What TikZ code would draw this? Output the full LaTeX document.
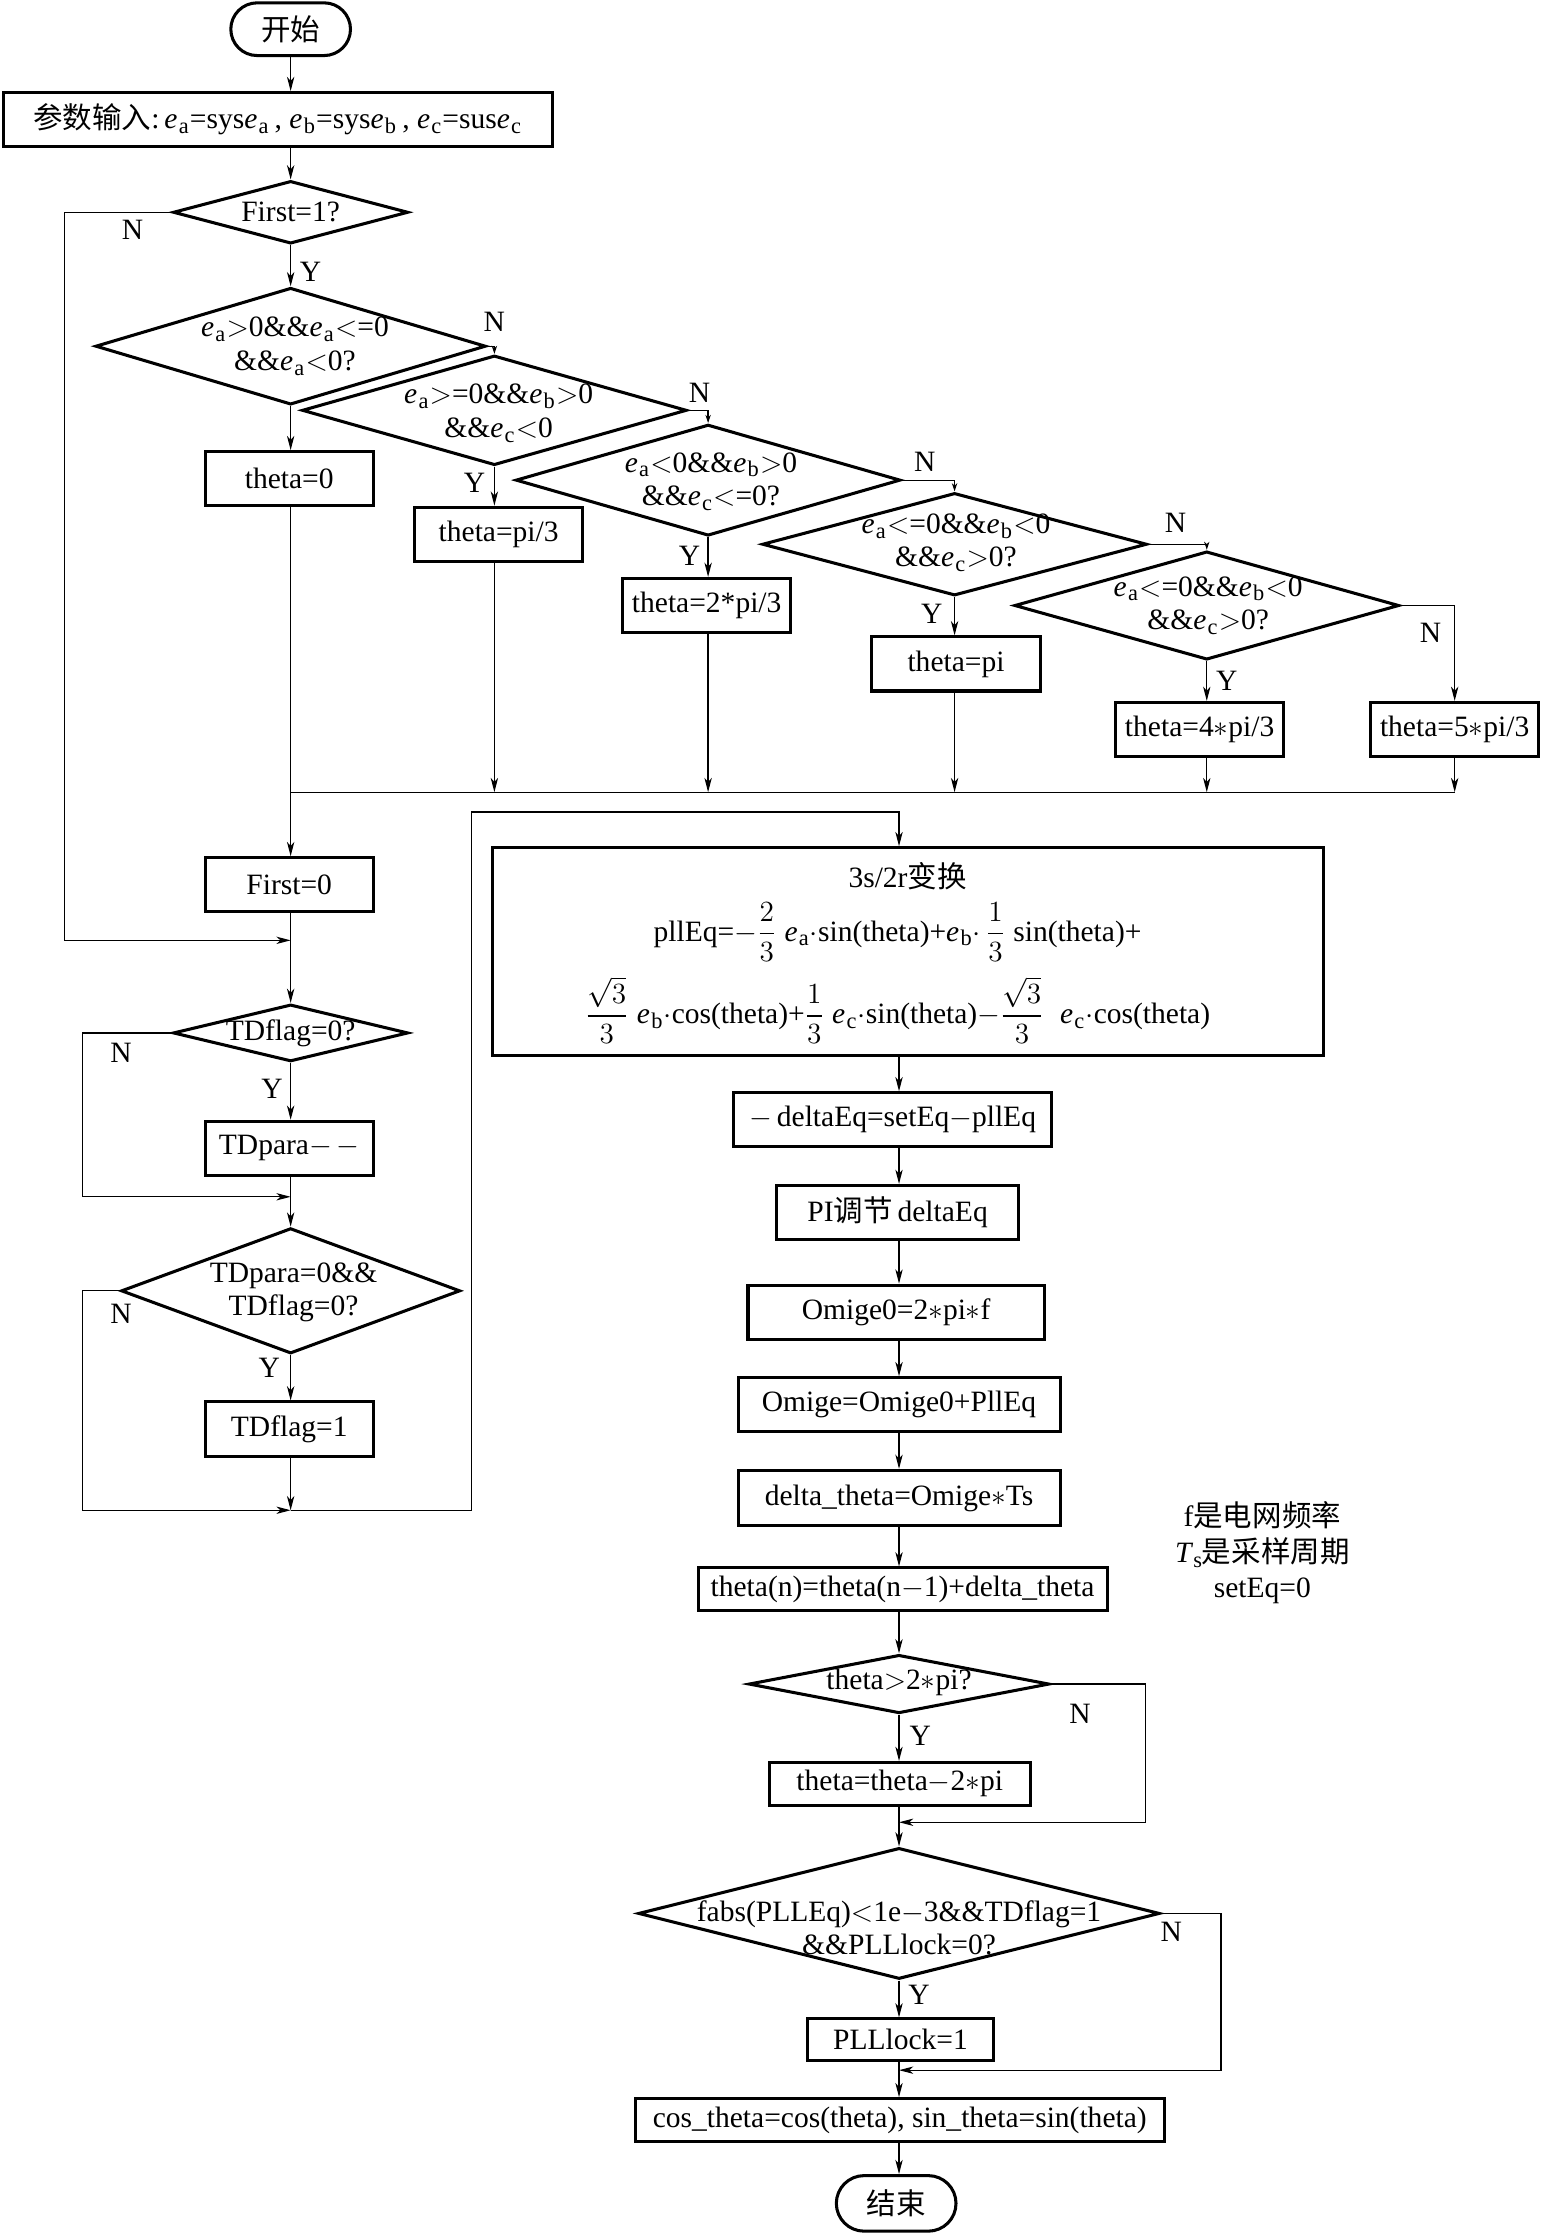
\documentclass[tikz,border=0pt]{standalone}
\usepackage{amsmath}
\usepackage{fontspec}
\setmainfont{Liberation Serif}
\newfontfamily\cjk{Noto Sans CJK SC}
\usetikzlibrary{shapes.geometric,shapes.misc,arrows.meta}
\newcommand\eV[1]{\textit{e}\kern0.6pt\raisebox{-0.35ex}{\fontsize{11}{11}\selectfont #1}\kern0.6pt}
\newcommand\fs{\fontsize{14.5}{16.5}\selectfont}
\begin{document}
\begin{tikzpicture}[x=0.7pt,y=-0.7pt,
 sz/.style 2 args={minimum width=#1*0.7pt, minimum height=#2*0.7pt},
 proc/.style={draw, line width=1.5pt, inner sep=0pt, font=\fs, align=center},
 dia/.style={diamond, draw, line width=1.5pt, inner sep=0pt},
 dtext/.style={font=\fs, align=center, inner sep=0pt},
 term/.style={rounded rectangle, draw, line width=1.5pt, inner sep=0pt, font=\fs},
 lbl/.style={font=\fs, inner sep=0pt},
 ln/.style={line width=0.6pt},
 arr/.style={ln, -{Stealth[length=7pt,width=3.6pt,inset=2pt]}},
 sarr/.style={ln, -{Stealth[length=4pt,width=2.6pt,inset=1.2pt]}}]
\fill[white] (0,0) rectangle (1081,1568);
\useasboundingbox (0,0) rectangle (1081,1568);
\coordinate (rc) at (631,0);
\coordinate (lc) at (204,0);
% ---- top
\node[term, sz={84}{37}] (start) at (204,20.5) {{\cjk 开始}};
\node[proc, sz={385}{38}] (in) at (195,84) {{\cjk 参数输入}:\,\eV{a}=sys\eV{a}\,, \eV{b}=sys\eV{b}\,, \eV{c}=sus\eV{c}};
\node[dia, sz={165}{44}] (f1) at (204,149) {};
\node[dtext] (f1t) at (f1) {First=1?};
% ---- cascade of diamonds
\node[dia, sz={274}{82}] (d1) at (204,243) {};
\node[dtext] (d1t) at (207,243) {\eV{a}$>$0\&\&\eV{a}$<$=0\\\&\&\eV{a}$<$0?};
\node[dia, sz={270}{77}] (d2) at (347,288) {};
\node[dtext] (d2t) at (350,290) {\eV{a}$>$=0\&\&\eV{b}$>$0\\\&\&\eV{c}$<$0};
\node[dia, sz={270}{78}] (d3) at (497,337) {};
\node[dtext] (d3t) at (499,338) {\eV{a}$<$0\&\&\eV{b}$>$0\\\&\&\eV{c}$<$=0?};
\node[dia, sz={270}{72}] (d4) at (670,382) {};
\node[dtext] (d4t) at (671,381) {\eV{a}$<$=0\&\&\eV{b}$<$0\\\&\&\eV{c}$>$0?};
\node[dia, sz={270}{76}] (d5) at (847,425) {};
\node[dtext] (d5t) at (848,425) {\eV{a}$<$=0\&\&\eV{b}$<$0\\\&\&\eV{c}$>$0?};
% ---- theta boxes
\node[proc, sz={118}{38}] (t0) at (203,336) {theta=0};
\node[proc, sz={118}{38}] (t1) at (350,375) {theta=pi/3};
\node[proc, sz={118}{38}] (t2) at (496,425) {theta=2*pi/3};
\node[proc, sz={118}{38}] (t3) at (671,466) {theta=pi};
\node[proc, sz={118}{38}] (t4) at (842,512) {theta=4$\ast$pi/3};
\node[proc, sz={118}{38}] (t5) at (1021,512) {theta=5$\ast$pi/3};
% ---- left column
\node[proc, sz={118}{38}] (fz) at (203,621) {First=0};
\node[dia, sz={165}{40}] (tf) at (204,725) {};
\node[dtext] (tft) at (tf) {TDflag=0?};
\node[proc, sz={118}{38}] (tp) at (203,806) {TDpara$-$\,$-$};
\node[dia, sz={238}{88}] (d7) at (204,906) {};
\node[dtext] (d7t) at (206,907) {TDpara=0\&\&\\TDflag=0?};
\node[proc, sz={118}{38}] (tf1) at (203,1003) {TDflag=1};
% ---- right column
\node[proc, sz={583}{146}] (big) at (637.5,668) {};
\node[dtext] (big1) at (637,615) {3s/2r{\cjk 变换}};
\node[dtext] (big2) at (630,654) {pllEq=$-\dfrac{2}{3}$\;\eV{a}$\cdot$sin(theta)+\eV{b}$\cdot\,\dfrac{1}{3}$\;sin(theta)+};
\node[dtext] (big3) at (630,709) {$\dfrac{\sqrt{3}}{3}$\;\eV{b}$\cdot$cos(theta)+$\dfrac{1}{3}$\;\eV{c}$\cdot$sin(theta)$-\dfrac{\sqrt{3}}{3}$\;\;\eV{c}$\cdot$cos(theta)};
\node[proc, sz={223}{38}] (de) at (626.5,786) {$-$\,deltaEq=setEq$-$pllEq};
\node[proc, sz={170}{38}] (pi) at (630,851) {PI{\cjk 调节}\,deltaEq};
\node[proc, sz={208}{38}] (om0) at (629,921) {Omige0=2$\ast$pi$\ast$f};
\node[proc, sz={226}{38}] (om) at (631,986) {Omige=Omige0+PllEq};
\node[proc, sz={226}{39}] (dth) at (631,1051.5) {delta\_theta=Omige$\ast$Ts};
\node[proc, sz={287}{30}] (tn) at (633.5,1115.5) {theta(n)=theta(n$-$1)+delta\_theta};
\node[dia, sz={211}{41}] (d8) at (631,1182) {};
\node[dtext] (d8t) at (631,1181) {theta$>$2$\ast$pi?};
\node[proc, sz={183}{30}] (tt) at (631.5,1252) {theta=theta$-$2$\ast$pi};
\node[dia, sz={366}{92}] (d9) at (631,1343) {};
\node[dtext] (d9t) at (631,1353) {fabs(PLLEq)$<$1e$-$3\&\&TDflag=1\\\&\&PLLlock=0?};
\node[proc, sz={130}{29}] (pl) at (632,1431.5) {PLLlock=1};
\node[proc, sz={371}{30}] (cs) at (631.5,1488) {cos\_theta=cos(theta), sin\_theta=sin(theta)};
\node[term, sz={84}{39}] (end) at (629,1546.5) {{\cjk 结束}};
% ---- note
\node[lbl, align=center, font=\fontsize{14.5}{17.5}\selectfont] (note) at (886,1090) {f{\cjk 是电网频率}\\\textit{T}\raisebox{-0.35ex}{\fontsize{11}{11}\selectfont s}{\cjk 是采样周期}\\setEq=0};
% ---- Y / N labels
\node[lbl] (n0) at (93,161) {N};
\node[lbl] (y0) at (218,191) {Y};
\node[lbl] (n1) at (347,226) {N};
\node[lbl] (n2) at (491,276) {N};
\node[lbl] (y2) at (333,339) {Y};
\node[lbl] (n3) at (649,324) {N};
\node[lbl] (y3) at (484,390) {Y};
\node[lbl] (n4) at (825,367) {N};
\node[lbl] (y4) at (654,431) {Y};
\node[lbl] (n5) at (1004,444) {N};
\node[lbl] (y5) at (861,478) {Y};
\node[lbl] (n6) at (85,739) {N};
\node[lbl] (y6) at (191,764) {Y};
\node[lbl] (n7) at (85,922) {N};
\node[lbl] (y7) at (189,960) {Y};
\node[lbl] (n8) at (758,1203) {N};
\node[lbl] (y8) at (646,1218) {Y};
\node[lbl] (n9) at (822,1356) {N};
\node[lbl] (y9) at (645,1400) {Y};
% ---- connectors: top
\draw[arr] (start.south) -- (lc |- in.north);
\draw[arr] (lc |- in.south) -- (f1.north);
\draw[arr] (f1.south) -- (d1.north);
\coordinate (j1) at (204,660);
\draw[arr] (f1.west) -| (45,660) -- (j1);
\draw[arr] (d1.south) -- (d1.south |- t0.north);
\draw[sarr] (d1.east) -| (d2.north);
\draw[arr] (d2.south) -- (d2.south |- t1.north);
\draw[sarr] (d2.east) -| (d3.north);
\draw[arr] (d3.south) -- (d3.south |- t2.north);
\draw[sarr] (d3.east) -| (d4.north);
\draw[arr] (d4.south) -- (d4.south |- t3.north);
\draw[sarr] (d4.east) -| (d5.north);
\draw[arr] (d5.south) -- (d5.south |- t4.north);
\draw[arr] (d5.east) -| (t5.north);
% ---- merge
\coordinate (m) at (204,556);
\draw[ln] (m) -- (m -| t5.south);
\draw[arr] (d2.south |- t1.south) -- (d2.south |- m);
\draw[arr] (d3.south |- t2.south) -- (d3.south |- m);
\draw[arr] (d4.south |- t3.south) -- (d4.south |- m);
\draw[arr] (d5.south |- t4.south) -- (d5.south |- m);
\draw[arr] (t5.south) -- (t5.south |- m);
\draw[arr] (lc |- t0.south) -- (lc |- fz.north);
% ---- left column
\draw[arr] (lc |- fz.south) -- (tf.north);
\draw[arr] (tf.south) -- (lc |- tp.north);
\coordinate (j2) at (204,840);
\draw[arr] (tf.west) -| (58,840) -- (j2);
\draw[arr] (lc |- tp.south) -- (d7.north);
\draw[arr] (d7.south) -- (lc |- tf1.north);
\coordinate (j3) at (204,1060);
\draw[arr] (d7.west) -| (58,1060) -- (j3);
\draw[arr] (lc |- tf1.south) -- (j3);
\draw[arr] (j3) -- (331,1060) -- (331,570) -- (631,570) -- (rc |- big.north);
% ---- right column
\draw[arr] (rc |- big.south) -- (rc |- de.north);
\draw[arr] (rc |- de.south) -- (rc |- pi.north);
\draw[arr] (rc |- pi.south) -- (rc |- om0.north);
\draw[arr] (rc |- om0.south) -- (rc |- om.north);
\draw[arr] (rc |- om.south) -- (rc |- dth.north);
\draw[arr] (rc |- dth.south) -- (rc |- tn.north);
\draw[arr] (rc |- tn.south) -- (d8.north);
\draw[arr] (d8.south) -- (rc |- tt.north);
\coordinate (j4) at (631,1279);
\draw[arr] (d8.east) -| (804,1279) -- (j4);
\draw[arr] (rc |- tt.south) -- (d9.north);
\draw[arr] (d9.south) -- (rc |- pl.north);
\coordinate (j5) at (631,1453);
\draw[arr] (d9.east) -| (857,1453) -- (j5);
\draw[arr] (rc |- pl.south) -- (rc |- cs.north);
\draw[arr] (rc |- cs.south) -- (rc |- end.north);
\end{tikzpicture}
\end{document}
